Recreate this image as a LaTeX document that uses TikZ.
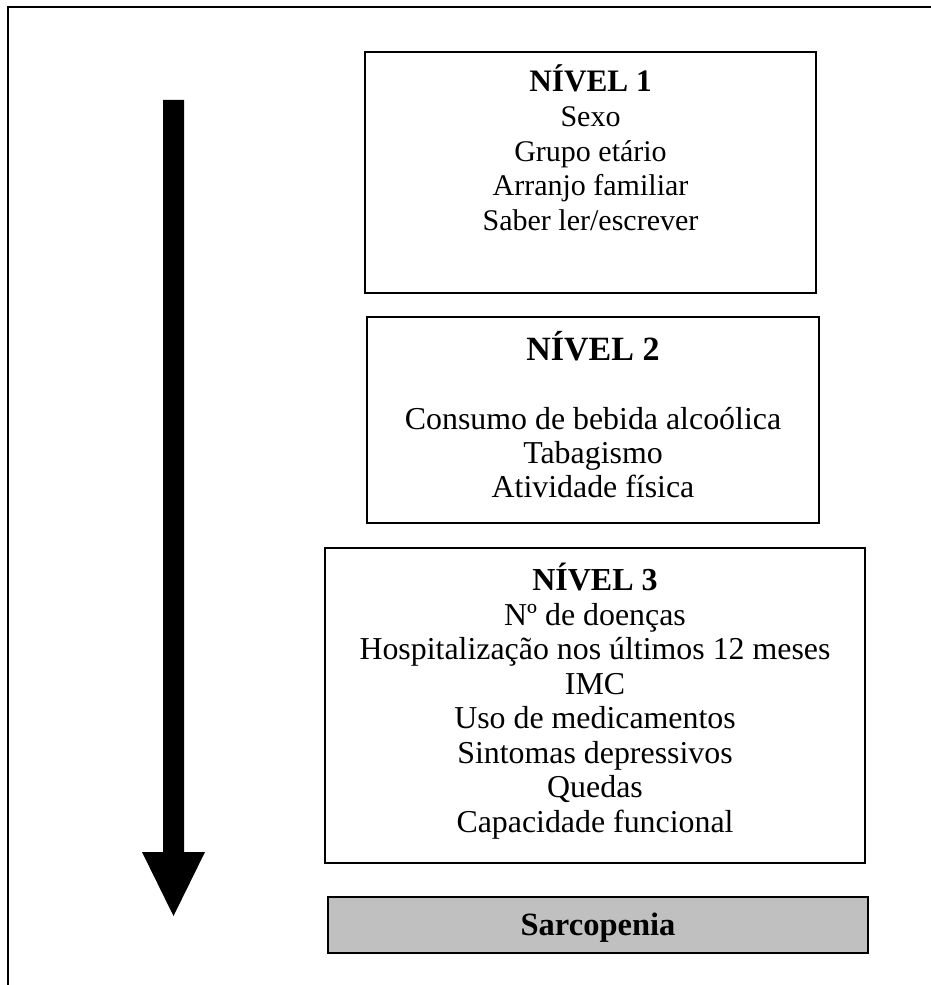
\documentclass[tikz,border=0pt]{standalone}
\usepackage{fontspec}
\setmainfont{Liberation Serif}
\begin{document}
\begin{tikzpicture}[x=0.4pt,y=-0.4pt,
  box/.style={draw, line width=0.8pt, inner sep=0pt},
  body/.style={anchor=base, inner sep=0pt, font=\fontsize{12}{13.8}\selectfont},
  bodyb/.style={anchor=base, inner sep=0pt, font=\fontsize{12.75}{13.8}\selectfont},
  ttl/.style={anchor=base, inner sep=0pt, font=\fontsize{12.5}{14}\selectfont\bfseries}]
\useasboundingbox (0,0) rectangle (931,985);
% outer frame (top and left edges visible)
\coordinate (fr) at (931,7.5);
\coordinate (fc) at (8,7.5);
\coordinate (fb) at (8,985);
\draw[line width=0.8pt] (fr) -- (fc) -- (fb);
% big downward arrow
\coordinate (a1) at (163,100);
\coordinate (a2) at (184,100);
\coordinate (a3) at (184,852);
\coordinate (a4) at (205,852);
\coordinate (a5) at (173.5,916);
\coordinate (a6) at (142,852);
\coordinate (a7) at (163,852);
\fill[black] (a1) -- (a2) -- (a3) -- (a4) -- (a5) -- (a6) -- (a7) -- cycle;
% boxes
\node[box, minimum width=180.4pt, minimum height=96.4pt] (n1) at (590.5,172.5) {};
\node[box, minimum width=180.8pt, minimum height=82.4pt] (n2) at (593,420) {};
\node[box, minimum width=216pt, minimum height=126pt] (n3) at (595,705.5) {};
\node[box, fill={rgb,255:red,192;green,192;blue,192}, minimum width=216pt, minimum height=22.4pt] (n4) at (598,925) {};
% level 1 texts
\node[ttl] (t1) at (590.5,92) {NÍVEL 1};
\node[body] (t1a) at (590.5,127) {Sexo};
\node[body] (t1b) at (590.5,161.5) {Grupo etário};
\node[body] (t1c) at (590.5,196) {Arranjo familiar};
\node[body] (t1d) at (590.5,230.5) {Saber ler/escrever};
% level 2 texts
\node[ttl, font=\fontsize{13.6}{14}\selectfont\bfseries] (t2) at (593,360) {NÍVEL 2};
\node[bodyb] (t2a) at (593,429) {Consumo de bebida alcoólica};
\node[bodyb] (t2b) at (593,463) {Tabagismo};
\node[bodyb] (t2c) at (593,497.5) {Atividade física};
% level 3 texts
\node[ttl, font=\fontsize{12.8}{14}\selectfont\bfseries] (t3) at (595,590) {NÍVEL 3};
\node[bodyb] (t3a) at (595,625) {Nº de doenças};
\node[bodyb] (t3b) at (595,659.5) {Hospitalização nos últimos 12 meses};
\node[bodyb] (t3c) at (595,694) {IMC};
\node[bodyb] (t3d) at (595,728.5) {Uso de medicamentos};
\node[bodyb] (t3e) at (595,763) {Sintomas depressivos};
\node[bodyb] (t3f) at (595,797.5) {Quedas};
\node[bodyb] (t3g) at (595,832) {Capacidade funcional};
% outcome
\node[ttl, font=\fontsize{13}{14}\selectfont\bfseries] (t4) at (598,935) {Sarcopenia};
\end{tikzpicture}
\end{document}
